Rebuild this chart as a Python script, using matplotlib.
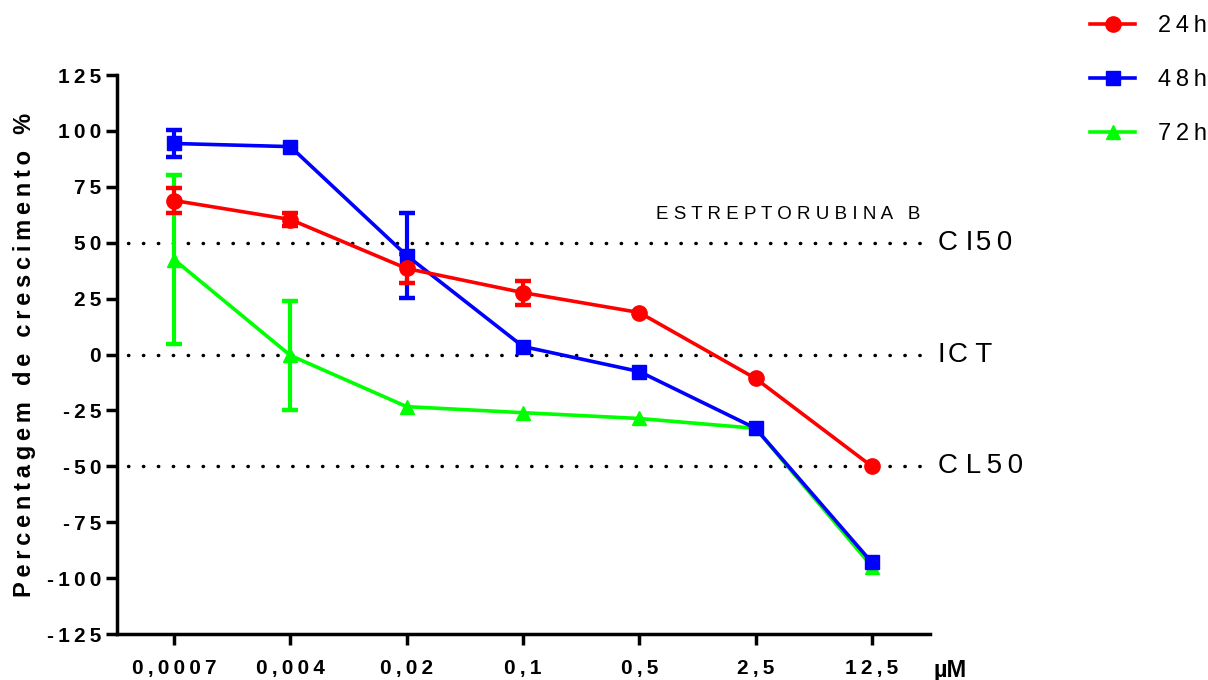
import matplotlib.pyplot as plt
import numpy as np

plt.rcParams["font.family"] = ["Liberation Sans", "DejaVu Sans"]

# concentracoes (uM)
conc = ["0,0007", "0,004", "0,02", "0,1", "0,5", "2,5", "12,5"]

h24 = [68.9, 60.4, 38.5, 27.7, 18.8, -10.7, -50.0]
h24_err = [5.8, 3.0, 6.5, 5.4, 0, 0, 0]

h48 = [94.4, 93.0, 44.3, 3.6, -7.6, -33.0, -93.0]
h48_err = [6.2, 0, 19.0, 0, 0, 0, 0]

h72 = [42.5, -0.4, -23.3, -26.0, -28.6, -33.0, -94.8]
h72_err = [38.0, 24.5, 0, 0, 0, 0, 0]

ref_lines = [50, 0, -50]
yticks = [125, 100, 75, 50, 25, 0, -25, -50, -75, -100, -125]

sp = "\u2009"
hs = "\u200a"
ref_labels = ["C" + " " + "I" + hs + "5" + sp + "0",
              "I" + hs + "C" + " " + "T",
              "C" + " " + "L" + sp + "5" + sp + "0"]


def spaced(s, gap=sp):
    return gap.join(s)


fig = plt.figure(figsize=(12.08, 6.8), dpi=100)
ax = fig.add_axes([0.0969, 0.0676, 0.673, 0.822])

x = np.arange(len(conc))

for y in ref_lines:
    ax.plot([-0.4, 6.47], [y, y], color="black", lw=2.5,
            linestyle=(0, (0.1, 4.2)), dash_capstyle="round", zorder=1)

series = [
    (h24, h24_err, "#ff0000", "o", 11, "24h"),
    (h48, h48_err, "#0000ff", "s", 10.5, "48h"),
    (h72, h72_err, "#00ff00", "^", 10.5, "72h"),
]
handles = []
for vals, err, col, mk, ms, lab in reversed(series):
    e = np.array(err, dtype=float)
    ax.errorbar(x, vals, yerr=np.where(e > 0, e, np.nan), fmt="none",
                ecolor=col, elinewidth=3, capsize=5.8, capthick=3.2, zorder=2)
    ln, = ax.plot(x, vals, color=col, lw=2.6, marker=mk, ms=ms,
                  label=spaced(lab, sp), zorder=3)
    handles.insert(0, ln)

for y, lab in zip(ref_lines, ref_labels):
    ax.text(6.57, y, lab, fontsize=20, va="center",
            ha="left", clip_on=False)
ax.text(6.42, 59, spaced("ESTREPTORUBINA", " ") + "   B",
        fontsize=13.5, ha="right", va="bottom")

ax.set_xlim(-0.49, 6.5)
ax.set_ylim(-125, 125)
ax.set_yticks(yticks)
ax.set_yticklabels([spaced(str(v), sp) for v in yticks], fontsize=15,
                   fontweight="bold")
ax.set_xticks(x)
ax.set_xticklabels([spaced(c, sp) for c in conc], fontsize=15,
                   fontweight="bold")
ax.tick_params(axis="both", width=2.5, length=8)
ax.tick_params(axis="x", pad=10)

for s in ["top", "right"]:
    ax.spines[s].set_visible(False)
for s in ["left", "bottom"]:
    ax.spines[s].set_linewidth(2.5)

ax.set_ylabel(spaced("Percentagem de crescimento %", sp), fontsize=17,
              fontweight="bold", labelpad=8)
ax.text(6.53, -136, "µM", fontsize=17, fontweight="bold", ha="left",
        va="top", clip_on=False)

fig.legend(handles=handles, loc="upper left", bbox_to_anchor=(0.8848, 1.009),
           frameon=False, fontsize=17, handlelength=1.9, labelspacing=1.36,
           handletextpad=0.97)

plt.savefig("out.png")
